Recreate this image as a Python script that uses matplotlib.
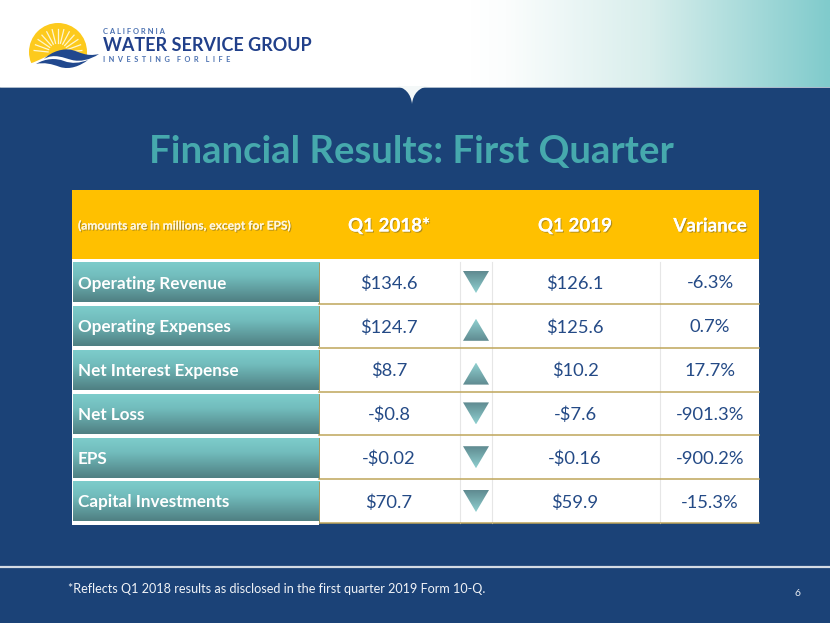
import numpy as np
import matplotlib
matplotlib.use("Agg")
import matplotlib.pyplot as plt
from matplotlib.patches import Polygon, Rectangle, Circle, PathPatch
from matplotlib.path import Path
from matplotlib.colors import LinearSegmentedColormap
import matplotlib.patheffects as pe

title = "Financial Results: First Quarter"
note = "(amounts are in millions, except for EPS)"
headers = ["Q1 2018*", "Q1 2019", "Variance"]
rows = ["Operating Revenue", "Operating Expenses", "Net Interest Expense", "Net Loss", "EPS", "Capital Investments"]
q1_2018 = ["$134.6", "$124.7", "$8.7", "-$0.8", "-$0.02", "$70.7"]
q1_2019 = ["$126.1", "$125.6", "$10.2", "-$7.6", "-$0.16", "$59.9"]
variance = ["-6.3%", "0.7%", "17.7%", "-901.3%", "-900.2%", "-15.3%"]
direction = ["down", "up", "up", "down", "down", "down"]
footnote = "*Reflects Q1 2018 results as disclosed in the first quarter 2019 Form 10-Q."
page = "6"

NAVY = "#1b4277"
GOLD = "#ffc000"
TEXT = "#244a86"
plt.rcParams["font.family"] = ["Lato", "DejaVu Sans"]

fig = plt.figure(figsize=(8.3, 6.23), dpi=100)
ax = fig.add_axes([0, 0, 1, 1])
ax.set_xlim(0, 830)
ax.set_ylim(623, 0)
ax.axis("off")

def grad(extent, colors, horizontal=False, clip=None, z=2):
    g = np.linspace(0, 1, 256)
    g = g[None, :] if horizontal else g[:, None]
    cm = LinearSegmentedColormap.from_list("g", colors)
    im = ax.imshow(g, extent=extent, cmap=cm, aspect="auto", zorder=z, interpolation="bilinear")
    if clip is not None:
        p = Polygon(clip, closed=True, transform=ax.transData, fc="none", ec="none")
        ax.add_patch(p)
        im.set_clip_path(p)
    return im

def curve(points, fc, z):
    # points: start, then triples of cubic Bezier control points
    codes = [Path.MOVETO] + [Path.CURVE4] * (len(points) - 1)
    ax.add_patch(PathPatch(Path(points, codes), fc=fc, ec="none", zorder=z))

# header band
ax.add_patch(Rectangle((0, 0), 830, 87, fc="white", ec="none", zorder=1))
grad((470, 830, 87, 0), [(0, "#ffffff"), (0.1, "#fbfdfd"), (0.5, "#d8eeec"), (1, "#80cbcc")], horizontal=True)
# navy body
ax.add_patch(Rectangle((0, 87), 830, 536, fc=NAVY, ec="none", zorder=3))
ax.plot([0, 830], [87, 87], color="#c8d2dc", lw=0.6, zorder=4)
# notch
curve([(395, 86), (405, 87), (411, 94), (412, 104), (413, 94), (419, 87), (430, 86)], "#f4f8f8", 5)

# logo
ax.add_patch(Circle((58, 52), 29, fc="#fdca1d", ec="none", zorder=4))
for a in np.arange(6, 180, 14):
    r = np.radians(a)
    ax.plot([58 + 10 * np.cos(r), 58 + 24 * np.cos(r)], [53 - 10 * np.sin(r), 53 - 24 * np.sin(r)],
            color="#fff6cf", lw=0.9, zorder=5)
# white area under the sun, then the two waves
curve([(28, 64), (38, 62), (45, 55), (58, 54), (70, 53), (80, 57), (100, 54),
       (100, 70), (100, 85), (100, 85), (60, 85), (30, 85), (26, 85), (26, 75), (26, 70), (28, 64)], "white", 5)
curve([(44, 59), (52, 51), (64, 48), (72, 50), (80, 52), (86, 57), (99, 54),
       (90, 60), (80, 62), (72, 60), (64, 58), (54, 53), (44, 59)], "#21488e", 6)
curve([(36, 64), (46, 58), (56, 58), (64, 61), (72, 64), (80, 63), (88, 60),
       (80, 66), (70, 70), (60, 67), (52, 64), (44, 62), (36, 64)], "#21488e", 6)
ax.text(103, 31, "C A L I F O R N I A", fontsize=5.5, color="#4a70b0", weight="bold", va="center", zorder=6)
ax.text(102.5, 45.5, "WATER SERVICE GROUP", fontsize=13.0, color="#21408a", weight="bold", va="center", zorder=6)
ax.text(103, 59.5, "I  N  V  E  S  T  I  N  G    F  O  R    L  I  F  E", fontsize=5.3, color="#4a70b0", weight="bold", va="center", zorder=6)

# title
ax.text(411.5, 151.5, title, fontsize=27.5, weight="bold", color="#46a9ad", ha="center", va="center", zorder=6)

# table
L, R = 72, 759
ax.add_patch(Rectangle((L, 190), R - L, 69, fc=GOLD, ec="none", zorder=4))
ax.add_patch(Rectangle((L, 259), R - L, 264, fc="white", ec="none", zorder=4))
shadow = [pe.withSimplePatchShadow(offset=(0.8, -0.8), shadow_rgbFace="#7a6a30", alpha=0.6), pe.Normal()]
ax.text(78, 226, note, fontsize=8.6, weight="bold", color="#fff6dc", va="center", zorder=6, path_effects=shadow)
cols = [389, 575, 710]
for x, h in zip(cols, headers):
    ax.text(x, 226, h, fontsize=13.5, weight="bold", color="white", ha="center", va="center", zorder=6, path_effects=shadow)

step = 43.8
for vx in [459.5, 491.5, 659.5]:
    ax.plot([vx, vx], [262, 523], color="#e6e6e6", lw=0.8, zorder=5)
for i, lab in enumerate(rows):
    top = 262.5 + i * step
    grad((L + 1, 319, top + 40, top), [(0, "#7dcccb"), (0.35, "#72bdbd"), (1, "#4f7f82")], z=5)
    ax.plot([319, 319], [top, top + 40], color="#a89a60", lw=0.7, zorder=6)
    ax.plot([319, R], [top + 41.5, top + 41.5], color="#bfa55a", lw=1.1, zorder=5)
    cy = top + 21
    ax.text(78, cy, lab, fontsize=12.3, weight="bold", color="white", va="center", zorder=7)
    for x, col in zip(cols, (q1_2018, q1_2019, variance)):
        ax.text(x, cy, col[i], fontsize=13.2, color=TEXT, ha="center", va="center", zorder=7)
    if direction[i] == "down":
        t = top + 8.5
        grad((463, 489, t + 22, t), ["#5f8a90", "#8fd0d0"],
             clip=[(463, t), (489, t), (476, t + 22)], z=7)
    else:
        t = top + 12.5
        grad((463, 489, t + 22, t), ["#8fd0d0", "#5f8a90"],
             clip=[(463, t + 22), (489, t + 22), (476, t)], z=7)
ax.add_patch(Rectangle((L, 520.5), 247, 4, fc="white", ec="none", zorder=6))

# footer
ax.plot([0, 830], [567, 567], color="#d5dbe4", lw=1.6, zorder=5)
ax.text(68, 589, footnote, fontsize=9.05, color="#f0f3f7", va="center", zorder=6)
ax.text(797, 594, page, fontsize=7.5, color="#e8ecf2", ha="center", va="center", zorder=6)

ax.set_xlim(0, 830)
ax.set_ylim(623, 0)
fig.savefig("out.png", dpi=100)
